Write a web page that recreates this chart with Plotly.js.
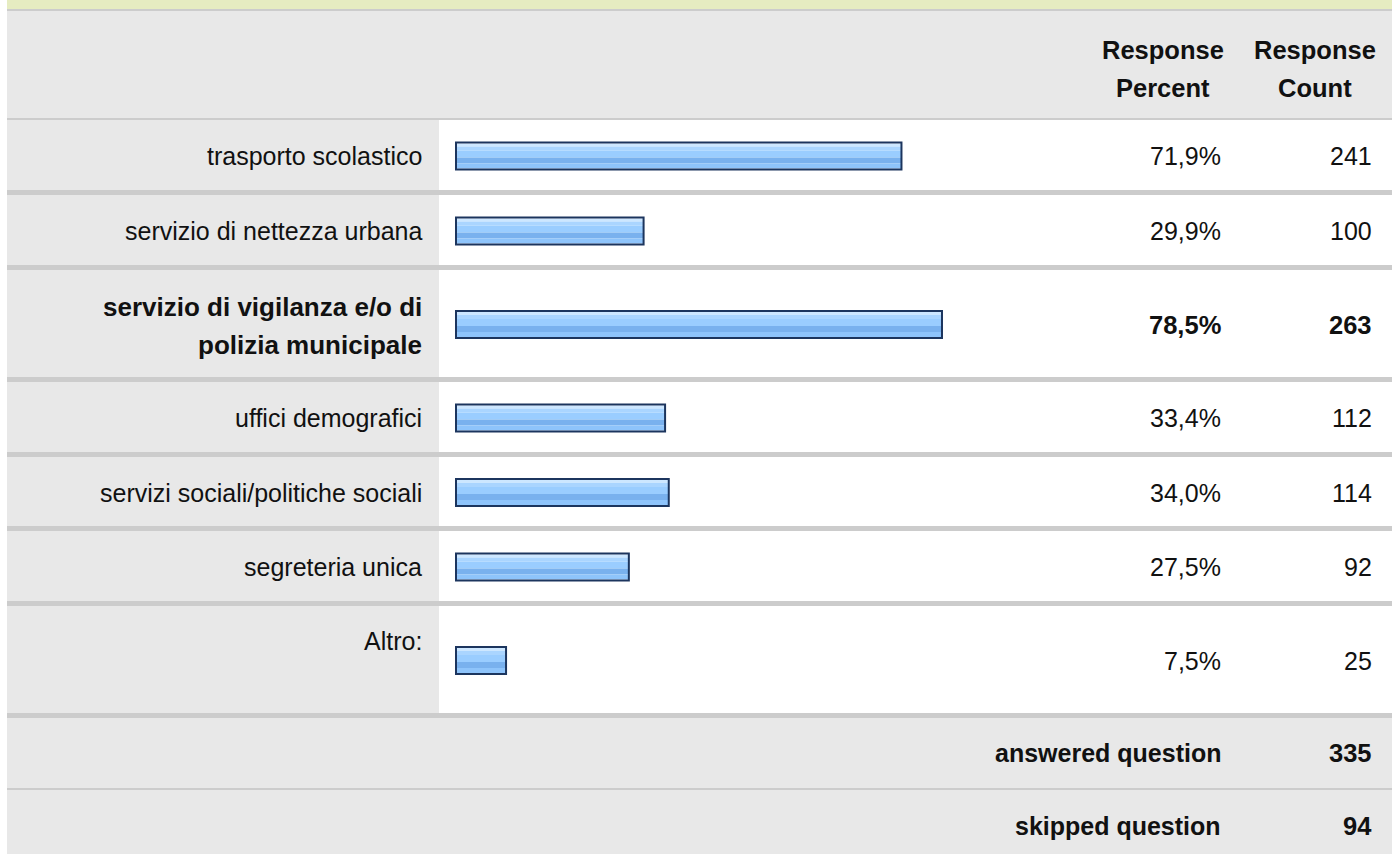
<!DOCTYPE html>
<html>
<head>
<meta charset="utf-8">
<script src="https://cdn.plot.ly/plotly-3.0.1.min.js"></script>
<style>html,body{margin:0;padding:0;background:#fff;}#chart{width:1396px;height:854px;}</style>
</head>
<body>
<div id="chart"></div>
<script>
// ---- data ----
const categories = [
  "trasporto scolastico",
  "servizio di nettezza urbana",
  "servizio di vigilanza e/o di polizia municipale",
  "uffici demografici",
  "servizi sociali/politiche sociali",
  "segreteria unica",
  "Altro:"
];
const labelLines = [
  ["trasporto scolastico"],
  ["servizio di nettezza urbana"],
  ["servizio di vigilanza e/o di", "polizia municipale"],
  ["uffici demografici"],
  ["servizi sociali/politiche sociali"],
  ["segreteria unica"],
  ["Altro:"]
];
const responsePercent = [71.9, 29.9, 78.5, 33.4, 34.0, 27.5, 7.5];
const responseCount = [241, 100, 263, 112, 114, 92, 25];
const headerPercent = ["Response", "Percent"];
const headerCount = ["Response", "Count"];
const summaryLabels = ["answered question", "skipped question"];
const summaryValues = [335, 94];

// ---- layout constants (pixels) ----
const W = 1396, H = 854;
const L = 7, R = 1392, LABEL_COL = 439;
const rows = [[120,190],[195,265],[270,377],[382,452],[457,526],[531,601],[606,713]];
const SEP = 5;
const px = v => v / W;
const FONT = "Liberation Sans, Arial, Helvetica, sans-serif";
const FS = 25;
const FSB = 25.5;
const TXT = "#111111";

const zeroPx = 460, unitPx = 6.14;      // x axis: 0% at 460px, 6.14px per %
const pad = 4 / unitPx;                 // bar image starts 4px before the zero (border padding)
const leftPx = 445;                     // plot area begins left of the bars so nothing is clipped
const centers = rows.map(r => (r[0] + r[1]) / 2 + 1);
const maxIdx = responsePercent.indexOf(Math.max(...responsePercent));
const barLen = responsePercent.map(v => v + pad);

// ---- bars (striped gradient) ----
const stripes = [
  {off: -12.5, w: 3, c: "#cde7ff"},
  {off: -9.5,  w: 4, c: "#aad5ff"},
  {off: -5.5,  w: 7, c: "#9acdff"},
  {off: 1.5,   w: 6, c: "#79b1ee"},
  {off: 7.5,   w: 5, c: "#8ec4fb"}
];
const traces = stripes.map(s => ({
  type: "bar", orientation: "h",
  x: barLen, y: centers, base: -pad,
  width: s.w, offset: s.off,
  marker: {color: s.c, line: {width: 0}},
  hoverinfo: "skip", showlegend: false
}));
traces.push({
  type: "bar", orientation: "h",
  x: barLen, y: centers, base: -pad,
  width: 27, offset: -13.5,
  marker: {color: "rgba(0,0,0,0)", line: {color: "#1c355e", width: 2}},
  hoverinfo: "skip", showlegend: false
});

// ---- table background shapes ----
const shapes = [];
const rect = (x0, x1, y0, y1, c) => shapes.push({
  type: "rect", xref: "paper", yref: "y", x0: px(x0), x1: px(x1), y0: y0, y1: y1,
  fillcolor: c, line: {width: 0}, layer: "below"
});
rect(L, R, 0, 9, "#e6ecc1");
rect(L, R, 9, H, "#e8e8e8");
rect(L, R, 9, 11, "#cccccc");
rect(L, R, 118, 120, "#cccccc");
rows.forEach(r => {
  rect(LABEL_COL, R, r[0], r[1], "#ffffff");
  rect(L, R, r[1], r[1] + SEP, "#cccccc");
});
rect(L, R, 788, 790, "#cccccc");

// ---- texts ----
const ann = [];
const txt = (x, y, t, anchor, bold, size) => ann.push({
  xref: "paper", yref: "y", x: px(x), y: y, text: bold ? "<b>" + t + "</b>" : t,
  xanchor: anchor, yanchor: "middle", showarrow: false,
  font: {family: FONT, size: size || (bold ? FSB : FS), color: TXT}
});
txt(1163, 50, headerPercent[0], "center", true);
txt(1163, 88, headerPercent[1], "center", true);
txt(1315, 50, headerCount[0], "center", true);
txt(1315, 88, headerCount[1], "center", true);

const fmtPct = v => v.toFixed(1).replace(".", ",") + "%";
rows.forEach((r, i) => {
  const bold = i === maxIdx;
  const lines = labelLines[i];
  const c = (r[0] + r[1]) / 2;
  const lsz = bold ? 26 : FS;
  if (lines.length === 2) {
    txt(424, c - 17, lines[0], "right", bold, lsz);
    txt(424, c + 21, lines[1], "right", bold, lsz);
  } else if (i === rows.length - 1) {
    txt(424, r[0] + 35, lines[0], "right", bold, lsz);
  } else {
    txt(424, c + 1, lines[0], "right", bold, lsz);
  }
  txt(1223, c + 1, fmtPct(responsePercent[i]), "right", bold);
  txt(1374, c + 1, String(responseCount[i]), "right", bold);
});
txt(1223, 753, summaryLabels[0], "right", true, 25);
txt(1374, 753, String(summaryValues[0]), "right", true);
txt(1223, 826, summaryLabels[1], "right", true, 25);
txt(1374, 826, String(summaryValues[1]), "right", true);

const layout = {
  width: W, height: H,
  margin: {l: 0, r: 0, t: 0, b: 0, pad: 0},
  paper_bgcolor: "#ffffff", plot_bgcolor: "rgba(0,0,0,0)",
  barmode: "overlay", showlegend: false,
  xaxis: {domain: [px(leftPx), px(zeroPx + 100 * unitPx)],
          range: [-(zeroPx - leftPx) / unitPx, 100],
          visible: false, fixedrange: true},
  yaxis: {domain: [0, 1], range: [H, 0], visible: false, fixedrange: true},
  shapes: shapes, annotations: ann
};
Plotly.newPlot("chart", traces, layout, {displayModeBar: false, staticPlot: true});
</script>
</body>
</html>
